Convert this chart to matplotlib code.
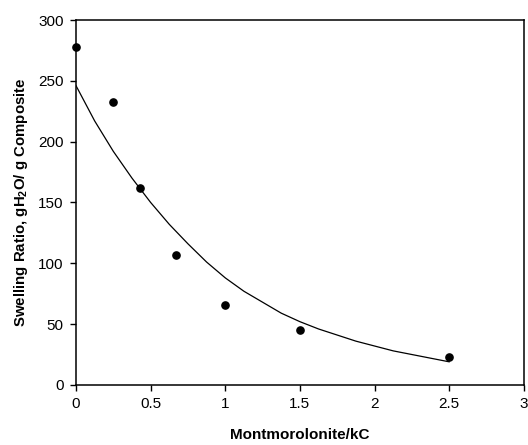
import matplotlib
matplotlib.use("Agg")
import matplotlib.pyplot as plt

plt.rcParams['font.family'] = ['Liberation Sans', 'DejaVu Sans']
plt.rcParams['mathtext.fontset'] = 'custom'
plt.rcParams['mathtext.bf'] = 'Liberation Sans:bold'
plt.rcParams['mathtext.rm'] = 'Liberation Sans'

# measured points
ratio = [0, 0.25, 0.43, 0.67, 1.0, 1.5, 2.5]
swelling = [278, 233, 162, 107, 66, 45, 23]

# fitted curve
fit_x = [0, 0.125, 0.25, 0.375, 0.5, 0.625, 0.75, 0.875, 1.0, 1.125, 1.25,
         1.375, 1.5, 1.625, 1.75, 1.875, 2.0, 2.125, 2.25, 2.375, 2.5]
fit_y = [246, 217, 192, 170, 150, 132, 116, 101, 88, 77, 68,
         59, 52, 46, 41, 36, 32, 28, 25, 22, 19]

xticks = [0, 0.5, 1, 1.5, 2, 2.5, 3]
yticks = [0, 50, 100, 150, 200, 250, 300]

fig = plt.figure(figsize=(5.28, 4.45), dpi=100)
ax = fig.add_axes([0.144, 0.135, 0.848, 0.82])

ax.plot(fit_x, fit_y, color='black', linewidth=0.9)
ax.plot(ratio, swelling, 'o', color='black', markersize=5.2, clip_on=False, zorder=3)

ax.set_xlim(0, 3)
ax.set_ylim(0, 300)
ax.set_xticks(xticks)
ax.set_xticklabels(['0', '0.5', '1', '1.5', '2', '2.5', '3'])
ax.set_yticks(yticks)
ax.tick_params(direction='out', length=4, width=1, labelsize=11, pad=5)
for s in ax.spines.values():
    s.set_linewidth(1.1)

ax.set_xlabel('Montmorolonite/kC', fontsize=11, fontweight='bold', labelpad=12)
ax.set_ylabel(r'Swelling Ratio, gH$_\mathbf{2}$O/ g Composite', fontsize=10.8,
              fontweight='bold', labelpad=6)

fig.savefig('out.png', dpi=100)
